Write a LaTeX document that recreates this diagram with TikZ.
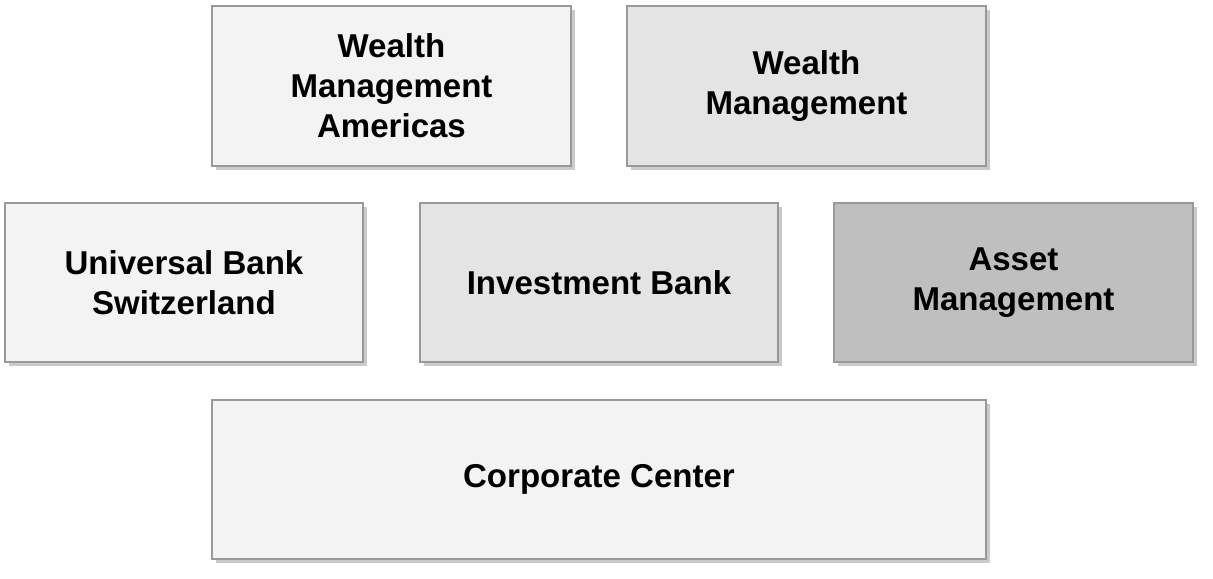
\documentclass[tikz,border=0pt]{standalone}
\usepackage{fontspec}
\setmainfont{Liberation Sans}
\usetikzlibrary{shadows}
\definecolor{palegray}{HTML}{F3F3F3}
\definecolor{midgray}{HTML}{E4E4E4}
\definecolor{darkgray}{HTML}{BFBFBF}
\tikzset{
  unit/.style={draw=black!40,line width=0.05cm,align=center,inner sep=0pt,
    minimum width=8.95cm,minimum height=3.98cm,
    font=\fontsize{23.5}{28.4}\selectfont\bfseries,
    drop shadow={shadow xshift=0.1cm,shadow yshift=-0.1cm,opacity=0.35,fill=black!60}}
}
\begin{document}
\begin{tikzpicture}[x=0.025cm,y=-0.025cm]
\useasboundingbox (0,0) rectangle (1213,579);
\node[unit,fill=palegray] (wma) at (391.5,86) {Wealth\\Management\\Americas};
\node[unit,fill=midgray] (wm) at (806.5,86) {Wealth\\Management};
\node[unit,fill=palegray] (ubs) at (184,282.5) {Universal Bank\\Switzerland};
\node[unit,fill=midgray] (ib) at (599,282.5) {Investment Bank};
\node[unit,fill=darkgray] (am) at (1013.5,282.5) {Asset\\Management};
\node[unit,fill=palegray,minimum width=19.35cm] (cc) at (599,479.5) {Corporate Center};
\end{tikzpicture}
\end{document}
